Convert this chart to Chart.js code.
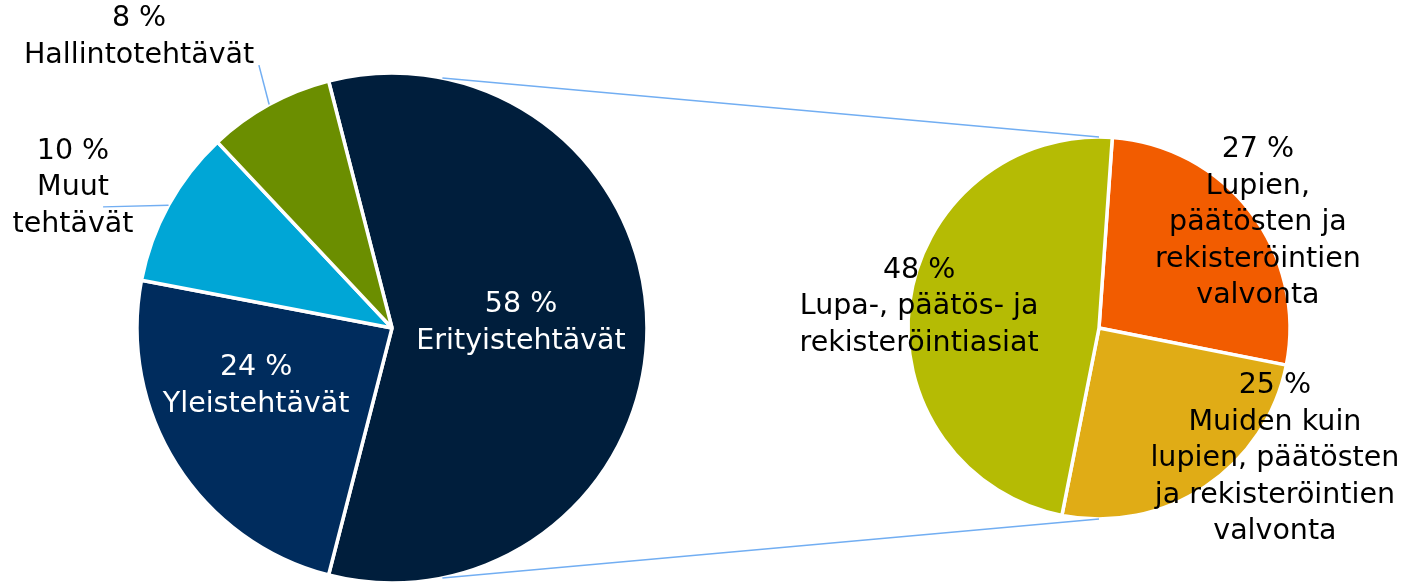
<!DOCTYPE html>
<html>
<head>
<meta charset="utf-8">
<script src="https://cdn.jsdelivr.net/npm/chart.js@4/dist/chart.umd.min.js"></script>
<style>
    body { margin: 0; background: #fff; }
    #wrap { position: relative; width: 1410px; height: 583px; }
    #wrap canvas { position: absolute; left: 0; top: 0; }
</style>
</head>
<body>
<div id="wrap">
    <canvas id="mainPie" width="1410" height="583"></canvas>
    <canvas id="subPie" width="1410" height="583"></canvas>
</div>
<script>
// main pie: share of tasks
const mainLabels = [['Erityistehtävät'], ['Yleistehtävät'], ['Muut', 'tehtävät'], ['Hallintotehtävät']];
const mainValues = [58, 24, 10, 8];
const mainColors = ['#001e3c', '#002c5d', '#00a6d6', '#6b8e00'];

// second pie: breakdown of Erityistehtävät
const subLabels = [
    ['Lupien,', 'päätösten ja', 'rekisteröintien', 'valvonta'],
    ['Muiden kuin', 'lupien, päätösten', 'ja rekisteröintien', 'valvonta'],
    ['Lupa-, päätös- ja', 'rekisteröintiasiat']
];
const subValues = [27, 25, 48];
const subColors = ['#f25c00', '#e0ac16', '#b5bb04'];

const FONT = '28.5px "DejaVu Sans", Verdana, sans-serif';
const LINE_H = 36.5;
const LEADER = '#72aef2';

// label text = "NN %" + category lines, placed relative to the pie radius
const sliceLabels = {
    id: 'sliceLabels',
    afterDatasetsDraw(chart, args, opts) {
        const ctx = chart.ctx;
        const values = chart.data.datasets[0].data;
        ctx.save();
        ctx.font = FONT;
        ctx.textAlign = 'center';
        ctx.textBaseline = 'middle';
        chart.getDatasetMeta(0).data.forEach((arc, i) => {
            const p = opts.placements[i];
            const r = arc.outerRadius;
            const cx = arc.x + p.dx * r;
            const cy = arc.y + p.dy * r;
            if (p.leader) {
                const a = (arc.startAngle + arc.endAngle) / 2;
                ctx.strokeStyle = LEADER;
                ctx.lineWidth = 1.5;
                ctx.beginPath();
                ctx.moveTo(arc.x + p.leader[0] * r, arc.y + p.leader[1] * r);
                ctx.lineTo(arc.x + Math.cos(a) * r, arc.y + Math.sin(a) * r);
                ctx.stroke();
            }
            const lines = [values[i] + ' %'].concat(chart.data.labels[i]);
            ctx.fillStyle = p.color;
            lines.forEach((t, k) => {
                ctx.fillText(t, cx, cy + (k - (lines.length - 1) / 2) * LINE_H);
            });
        });
        ctx.restore();
    }
};

const deg = Math.PI / 180;

const mainChart = new Chart(document.getElementById('mainPie'), {
    type: 'pie',
    data: {
        labels: mainLabels,
        datasets: [{
            data: mainValues,
            backgroundColor: mainColors,
            borderColor: '#fff',
            borderWidth: 3.5
        }]
    },
    options: {
        responsive: false,
        animation: false,
        radius: 255,
        // split slice centred on the right side
        rotation: 90 - mainValues[0] * 3.6 / 2,
        layout: { padding: { left: 137, right: 763, top: 73, bottom: 0 } },
        plugins: {
            legend: { display: false },
            tooltip: { enabled: false },
            sliceLabels: {
                placements: [
                    { dx: 0.506, dy: -0.02, color: '#fff' },
                    { dx: -0.533, dy: 0.227, color: '#fff' },
                    { dx: -1.251, dy: -0.549, color: '#000', leader: [-1.133, -0.475] },
                    { dx: -0.992, dy: -1.141, color: '#000', leader: [-0.522, -1.031] }
                ]
            }
        }
    },
    plugins: [sliceLabels]
});

// lines joining the split slice to the second pie
const connectors = {
    id: 'connectors',
    afterDatasetsDraw(chart) {
        const big = mainChart.getDatasetMeta(0).data[0];
        const sub = chart.getDatasetMeta(0).data[0];
        const mid = (big.startAngle + big.endAngle) / 2;
        const ctx = chart.ctx;
        ctx.save();
        ctx.strokeStyle = LEADER;
        ctx.lineWidth = 1.5;
        [-1, 1].forEach(s => {
            const a1 = mid + s * 78.6 * deg;
            const a2 = s * 90 * deg;
            ctx.beginPath();
            ctx.moveTo(big.x + Math.cos(a1) * big.outerRadius, big.y + Math.sin(a1) * big.outerRadius);
            ctx.lineTo(sub.x + Math.cos(a2) * sub.outerRadius, sub.y + Math.sin(a2) * sub.outerRadius);
            ctx.stroke();
        });
        ctx.restore();
    }
};

const subChart = new Chart(document.getElementById('subPie'), {
    type: 'pie',
    data: {
        labels: subLabels,
        datasets: [{
            data: subValues,
            backgroundColor: subColors,
            borderColor: '#fff',
            borderWidth: 3.5
        }]
    },
    options: {
        responsive: false,
        animation: false,
        radius: 191,
        rotation: 4,
        layout: { padding: { left: 908, right: 120, top: 137, bottom: 64 } },
        plugins: {
            legend: { display: false },
            tooltip: { enabled: false },
            sliceLabels: {
                placements: [
                    { dx: 0.832, dy: -0.550, color: '#000' },
                    { dx: 0.921, dy: 0.686, color: '#000' },
                    { dx: -0.942, dy: -0.110, color: '#000' }
                ]
            }
        }
    },
    plugins: [connectors, sliceLabels]
});
</script>
</body>
</html>
